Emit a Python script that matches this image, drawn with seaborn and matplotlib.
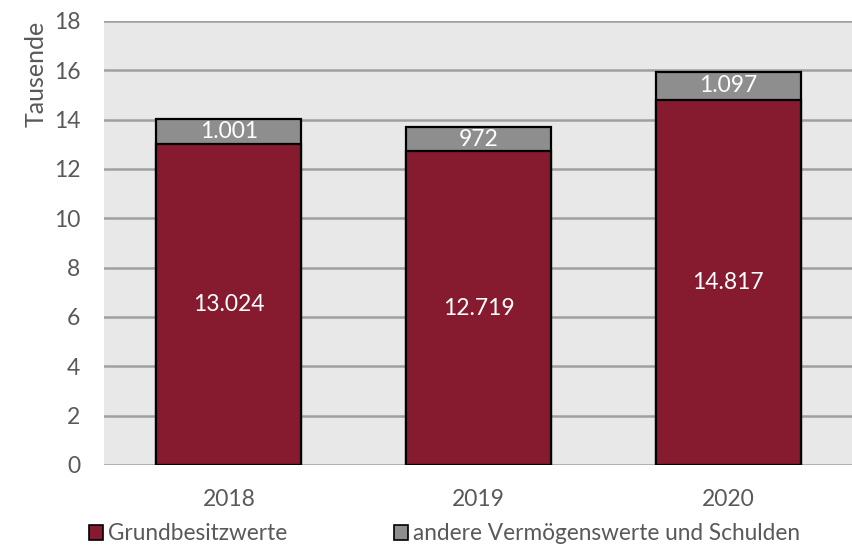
import matplotlib
matplotlib.use("Agg")
import matplotlib.pyplot as plt
import seaborn as sns
import pandas as pd
from matplotlib.patches import Patch

years = ["2018", "2019", "2020"]
grundbesitz = [13.024, 12.719, 14.817]
andere = [1.001, 0.972, 1.097]
yticks = [0, 2, 4, 6, 8, 10, 12, 14, 16, 18]
series_names = ["Grundbesitzwerte", "andere Vermögenswerte und Schulden"]

RED = "#861a2f"
GREY = "#8e8e8e"
TXT = "#595959"

sns.set_theme(style="white")
plt.rcParams["font.family"] = ["Lato", "DejaVu Sans"]

df = pd.DataFrame({
    "Jahr": years,
    "Grund": grundbesitz,
    "Andere": andere,
})
df["Gesamt"] = df["Grund"] + df["Andere"]

fig = plt.figure(figsize=(8.53, 5.48), dpi=100)
ax = fig.add_axes([0.122, 0.1515, 0.878, 0.8102])
ax.set_facecolor("#e8e8e8")

# stacked bars: total drawn first, base segment drawn over it
sns.barplot(data=df, x="Jahr", y="Gesamt", color=GREY, saturation=1,
            width=0.58, edgecolor="black", linewidth=1.6, ax=ax, zorder=3)
sns.barplot(data=df, x="Jahr", y="Grund", color=RED, saturation=1,
            width=0.58, edgecolor="black", linewidth=1.6, ax=ax, zorder=4)

def de(v):
    s = f"{v * 1000:,.0f}"
    return s.replace(",", ".")

for i, (g, a) in enumerate(zip(grundbesitz, andere)):
    ax.text(i, g / 2, de(g), ha="center", va="center", color="white",
            fontsize=16.5, zorder=5)
    ax.text(i, g + a / 2, de(a), ha="center", va="center", color="white",
            fontsize=16.5, zorder=5)

ax.set_ylim(0, 18)
ax.set_xlim(-0.5, 2.5)
ax.set_yticks(yticks)
ax.set_yticklabels([str(t) for t in yticks])
ax.yaxis.grid(True, color="#a0a0a0", linewidth=1.8)
ax.set_axisbelow(True)
for s in ax.spines.values():
    s.set_visible(False)
ax.tick_params(axis="both", length=0, labelsize=16.5, labelcolor=TXT)
ax.tick_params(axis="y", pad=17)
ax.tick_params(axis="x", pad=17)
ax.set_xlabel("")
ax.set_ylabel("Tausende", fontsize=18, color=TXT, loc="top")
ax.yaxis.set_label_coords(-0.075, 1.0)

handles = [Patch(facecolor=RED, edgecolor="black", linewidth=1.2),
           Patch(facecolor=GREY, edgecolor="black", linewidth=1.2)]
fig.legend(handles, series_names, loc="lower left", bbox_to_anchor=(0.08, -0.03),
           ncol=2, frameon=False, fontsize=16.3, handlelength=0.65,
           handleheight=0.65, handletextpad=0.2, columnspacing=4.7,
           labelcolor=TXT)

fig.savefig("out.png", dpi=100)
